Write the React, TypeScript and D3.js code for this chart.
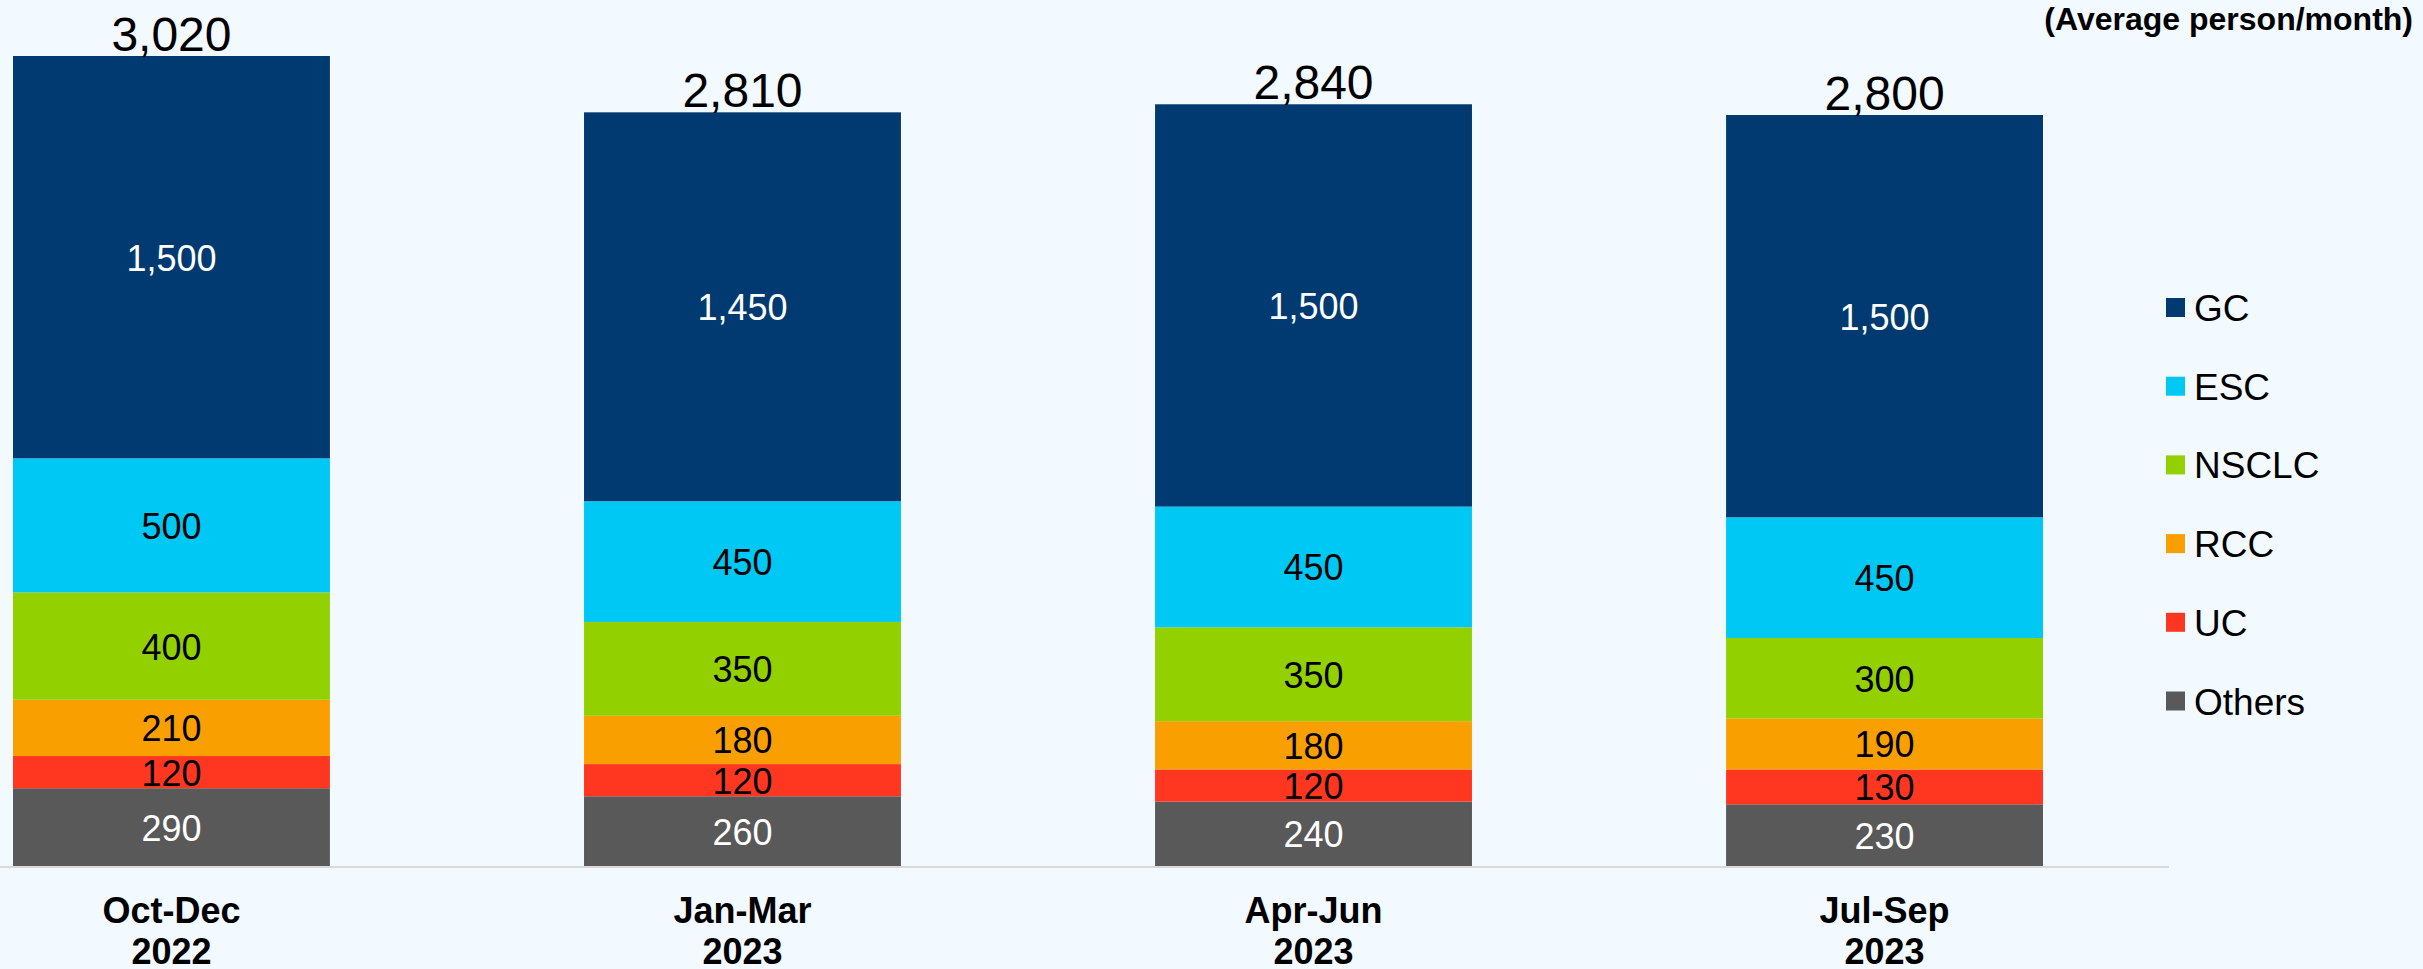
import React from "react";
import * as d3 from "d3";

const width = 2423;
const height = 969;

const periods = ["Oct-Dec|2022", "Jan-Mar|2023", "Apr-Jun|2023", "Jul-Sep|2023"];
const seriesNames = ["Others", "UC", "RCC", "NSCLC", "ESC", "GC"];
const others = [290, 260, 240, 230];
const uc = [120, 120, 120, 130];
const rcc = [210, 180, 180, 190];
const nsclc = [400, 350, 350, 300];
const esc = [500, 450, 450, 450];
const gc = [1500, 1450, 1500, 1500];
const totals = [3020, 2810, 2840, 2800];
const legendOrder = ["GC", "ESC", "NSCLC", "RCC", "UC", "Others"];

const colors: Record<string, string> = {
  GC: "#003A70",
  ESC: "#00C8F5",
  NSCLC: "#92D000",
  RCC: "#F9A000",
  UC: "#FF3720",
  Others: "#595959",
};
const labelColors: Record<string, string> = {
  GC: "#ffffff",
  ESC: "#000000",
  NSCLC: "#000000",
  RCC: "#000000",
  UC: "#000000",
  Others: "#ffffff",
};

const font = "'Liberation Sans', Arial, sans-serif";

export default function App() {
  const rows = periods.map((p, i) => ({
    period: p,
    Others: others[i],
    UC: uc[i],
    RCC: rcc[i],
    NSCLC: nsclc[i],
    ESC: esc[i],
    GC: gc[i],
  }));
  const stacked = d3.stack<any>().keys(seriesNames)(rows);

  // bars sit between the left edge and the legend
  const x = d3
    .scaleBand()
    .domain(periods)
    .range([13, 2043])
    .paddingInner(0.445)
    .paddingOuter(0);
  const y = d3.scaleLinear().domain([0, 3020]).range([866, 56]);
  const fmt = d3.format(",");

  return (
    <svg
      width={width}
      height={height}
      style={{ position: "absolute", left: 0, top: 0, background: "#F2F9FF" }}
      fontFamily={font}
    >
      <rect x={0} y={0} width={width} height={height} fill="#F2F9FF" />
      {stacked.map((layer) => (
        <g key={layer.key}>
          {layer.map((d, i) => (
            <rect
              key={i}
              x={x(periods[i])}
              y={y(d[1])}
              width={x.bandwidth()}
              height={y(d[0]) - y(d[1])}
              fill={colors[layer.key]}
            />
          ))}
          {layer.map((d, i) => (
            <text
              key={"t" + i}
              x={(x(periods[i]) as number) + x.bandwidth() / 2}
              y={(y(d[0]) + y(d[1])) / 2 + 1}
              textAnchor="middle"
              dominantBaseline="central"
              fontSize={36}
              fill={labelColors[layer.key]}
            >
              {fmt(d[1] - d[0])}
            </text>
          ))}
        </g>
      ))}
      {totals.map((t, i) => (
        <text
          key={"tot" + i}
          x={(x(periods[i]) as number) + x.bandwidth() / 2}
          y={y(t) - 5}
          textAnchor="middle"
          fontSize={48}
          fill="#000"
        >
          {fmt(t)}
        </text>
      ))}
      <line x1={0} x2={2169} y1={867} y2={867} stroke="#D9D9D9" strokeWidth={2} />
      {periods.map((p, i) => {
        const [a, b] = p.split("|");
        const cx = (x(p) as number) + x.bandwidth() / 2;
        return (
          <text
            key={"ax" + i}
            x={cx}
            textAnchor="middle"
            fontSize={36}
            fontWeight="bold"
            fill="#000"
          >
            <tspan x={cx} y={923}>
              {a}
            </tspan>
            <tspan x={cx} y={964}>
              {b}
            </tspan>
          </text>
        );
      })}
      <text x={2413} y={30} textAnchor="end" fontSize={32} fontWeight="bold" fill="#000">
        (Average person/month)
      </text>
      {legendOrder.map((k, i) => {
        const cy = 307.5 + i * 78.7;
        return (
          <g key={"lg" + k}>
            <rect x={2166} y={cy - 9.5} width={19} height={19} fill={colors[k]} />
            <text x={2194} y={cy + 1} dominantBaseline="central" fontSize={37} fill="#000">
              {k}
            </text>
          </g>
        );
      })}
    </svg>
  );
}
